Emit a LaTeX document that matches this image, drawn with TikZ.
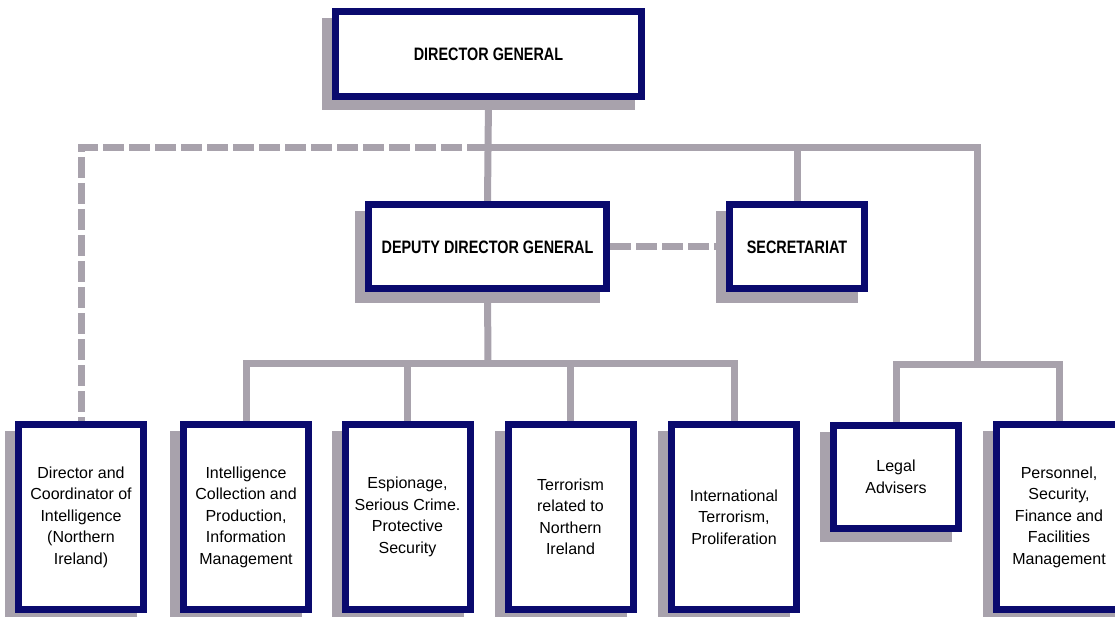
\documentclass[tikz,border=0pt]{standalone}
\usepackage{fontspec}
\setmainfont{Liberation Sans}
\newfontfamily\headfont[FakeStretch=0.8]{Liberation Sans}
\usetikzlibrary{shadows,backgrounds}

\definecolor{navyline}{RGB}{10,10,110}
\definecolor{shadowgrey}{RGB}{168,162,172}

\tikzset{
  unit/.style={draw=navyline,line width=7pt,fill=white,align=center,inner sep=2pt,
    drop shadow={opacity=1,fill=shadowgrey,draw=shadowgrey,line width=7pt,
      shadow xshift=-10pt,shadow yshift=-10pt}},
  headunit/.style={unit,font=\headfont\bfseries\fontsize{18}{21}\selectfont},
  deptunit/.style={unit,minimum width=125pt,minimum height=185pt,
    font=\fontsize{16}{21.5}\selectfont},
  link/.style={draw=shadowgrey,line width=7pt},
  dashlink/.style={link,dash pattern=on 21pt off 5pt}
}

\begin{document}
\begin{tikzpicture}[x=1pt,y=-1pt]

\path[use as bounding box,clip] (0,0) rectangle (1115,617);

% The top of the service
\node[headunit,minimum width=306pt,minimum height=85pt] (dg) at (488.5,54) {DIRECTOR GENERAL};
\node[headunit,minimum width=238pt,minimum height=84pt] (ddg) at (487.5,247) {DEPUTY DIRECTOR GENERAL};
\node[headunit,minimum width=135pt,minimum height=84pt] (sec) at (797,247) {SECRETARIAT};

% The branches
\node[deptunit] (dci) at (81,517) {Director and\\Coordinator of\\Intelligence\\(Northern\\Ireland)};
\node[deptunit] (intel) at (246,517) {Intelligence\\Collection and\\Production,\\Information\\Management};
\node[deptunit] (esp) at (407.5,517) {Espionage,\\Serious Crime.\\Protective\\Security};
\node[deptunit] (ni) at (570.5,517) {Terrorism\\related to\\Northern\\Ireland};
\node[deptunit] (intl) at (734,517) {International\\Terrorism,\\Proliferation};
\node[deptunit,minimum height=103pt] (legal) at (896,477) {Legal\\Advisers};
\node[deptunit] (pers) at (1059,517) {Personnel,\\Security,\\Finance and\\Facilities\\Management};

\coordinate (topsplit) at (488,148);
\coordinate (lowsplit) at (488,363);
\coordinate (rightsplit) at (977,364);

% The lines
\begin{scope}[on background layer]
\draw[link] (dg.south) -- (ddg.north);
\draw[link] (topsplit) -| (rightsplit);
\draw[link] (topsplit -| sec.north) -- (sec.north);
\draw[dashlink] (topsplit) -| (dci.north);
\draw[dashlink] (ddg) -- (sec);

\draw[link] (ddg.south) -- (lowsplit);
\draw[link] (intel.north) |- (lowsplit) -| (intl.north);
\draw[link] (lowsplit -| esp.north) -- (esp.north);
\draw[link] (lowsplit -| ni.north) -- (ni.north);

\draw[link] (legal.north) |- (rightsplit) -| (pers.north);
\end{scope}

\end{tikzpicture}
\end{document}
